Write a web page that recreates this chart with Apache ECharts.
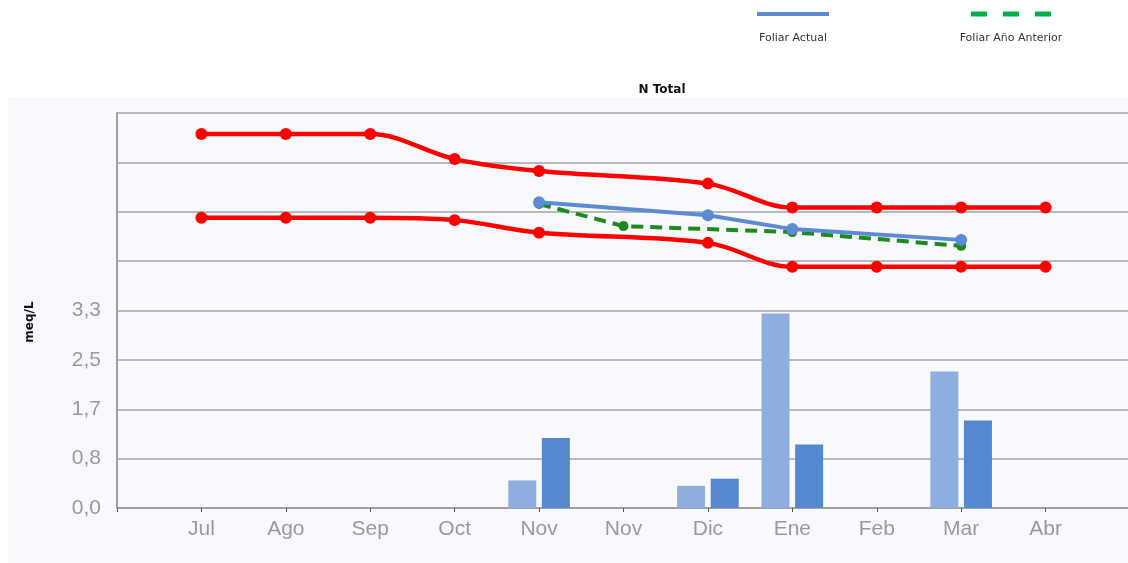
<!DOCTYPE html>
<html>
<head>
<meta charset="utf-8">
<title>N Total</title>
<script src="https://cdn.jsdelivr.net/npm/echarts@6/dist/echarts.min.js"></script>
<style>
  html, body { margin: 0; padding: 0; background: #fff; }
  #main { width: 1128px; height: 563px; }
</style>
</head>
<body>
<div id="main"></div>
<script>
// categorias (con un hueco vacio al inicio y al final del eje)
const months = ['Jul', 'Ago', 'Sep', 'Oct', 'Nov', 'Nov', 'Dic', 'Ene', 'Feb', 'Mar', 'Abr'];
const yTickLabels = ['0,0', '0,8', '1,7', '2,5', '3,3'];

// bandas (rojo)
const limiteSuperior = [6.25, 6.25, 6.25, 5.83, 5.63, null, 5.42, 5.02, 5.02, 5.02, 5.02];
const limiteInferior = [4.85, 4.85, 4.85, 4.81, 4.60, null, 4.43, 4.03, 4.03, 4.03, 4.03];

// foliar
const foliarActual = [null, null, null, null, 5.11, null, 4.89, 4.66, null, 4.48, null];
const foliarAnterior = [null, null, null, null, 5.08, 4.71, null, 4.61, null, 4.38, null];

// barras
const barrasClaras = [null, null, null, null, 0.46, null, 0.37, 3.25, null, 2.28, null];
const barrasOscuras = [null, null, null, null, 1.17, null, 0.49, 1.06, null, 1.46, null];

const yStep = 0.825;
const yMax = 6.6;

const pad = arr => [null].concat(arr, [null]);
const categories = [''].concat(months, ['']);

let myChart = echarts.init(document.getElementById('main'));

const labelFont = '"Liberation Sans", Arial, sans-serif';

myChart.setOption({
    animation: false,
    backgroundColor: '#ffffff',
    title: {
        text: 'N Total',
        left: 657,
        top: 79,
        textAlign: 'center',
        textStyle: { fontSize: 12, fontWeight: 'bold', color: '#111', fontFamily: 'DejaVu Sans, sans-serif' }
    },
    graphic: [
        {
            type: 'rect', z: -10, silent: true,
            shape: { x: 8, y: 97, width: 1125, height: 470 },
            style: { fill: '#f7f9fc' }
        },
        {
            type: 'line', silent: true,
            shape: { x1: 757, y1: 14, x2: 829, y2: 14 },
            style: { stroke: '#5b8bd0', lineWidth: 4 }
        },
        {
            type: 'text', silent: true, x: 793, y: 38,
            style: { text: 'Foliar Actual', fill: '#333', font: '11px DejaVu Sans', align: 'center', verticalAlign: 'middle' }
        },
        {
            type: 'line', silent: true,
            shape: { x1: 971, y1: 14, x2: 1051, y2: 14 },
            style: { stroke: '#00b050', lineWidth: 5, lineDash: [16, 16] }
        },
        {
            type: 'text', silent: true, x: 1011, y: 38,
            style: { text: 'Foliar Año Anterior', fill: '#333', font: '11px DejaVu Sans', align: 'center', verticalAlign: 'middle' }
        },
        {
            type: 'text', silent: true, x: 30, y: 322, rotation: Math.PI / 2,
            style: { text: 'meq/L', fill: '#111', font: 'bold 12px DejaVu Sans', align: 'center', verticalAlign: 'middle' }
        }
    ],
    grid: {
        left: 117,
        right: -2,
        top: 113,
        bottom: 55,
        outerBoundsMode: 'none'
    },
    xAxis: {
        type: 'category',
        data: categories,
        boundaryGap: false,
        axisLine: { lineStyle: { color: '#a0a0a0', width: 2 } },
        axisTick: { show: true, length: 4, lineStyle: { color: '#555' } },
        axisLabel: { interval: 0, fontSize: 21, color: '#9a9a9a', margin: 11, fontFamily: labelFont },
        splitLine: { show: false }
    },
    yAxis: {
        type: 'value',
        min: 0,
        max: yMax,
        interval: yStep,
        axisLine: { show: true, lineStyle: { color: '#a0a0a0', width: 2 } },
        axisTick: { show: false },
        axisLabel: {
            fontSize: 21,
            color: '#9a9a9a',
            margin: 16,
            fontFamily: labelFont,
            formatter: function (v) {
                let i = Math.round(v / yStep);
                return i < yTickLabels.length ? yTickLabels[i] : '';
            }
        },
        splitLine: { lineStyle: { color: '#a3a3a3', width: 1.5 } }
    },
    series: [
        {
            name: 'Barras 1',
            type: 'bar',
            data: pad(barrasClaras),
            barWidth: 28,
            barGap: '20%',
            itemStyle: { color: '#8daedf' },
            z: 1
        },
        {
            name: 'Barras 2',
            type: 'bar',
            data: pad(barrasOscuras),
            barWidth: 28,
            itemStyle: { color: '#5688d0' },
            z: 1
        },
        {
            name: 'Maximo',
            type: 'line',
            data: pad(limiteSuperior),
            connectNulls: true,
            smooth: 0.35,
            symbol: 'circle',
            symbolSize: 12,
            lineStyle: { color: '#ff0000', width: 4.5 },
            itemStyle: { color: '#ff0000' },
            z: 3
        },
        {
            name: 'Minimo',
            type: 'line',
            data: pad(limiteInferior),
            connectNulls: true,
            smooth: 0.35,
            symbol: 'circle',
            symbolSize: 12,
            lineStyle: { color: '#ff0000', width: 4.5 },
            itemStyle: { color: '#ff0000' },
            z: 3
        },
        {
            name: 'Foliar Año Anterior',
            type: 'line',
            data: pad(foliarAnterior),
            connectNulls: true,
            symbol: 'circle',
            symbolSize: 10,
            lineStyle: { color: '#1e8a1e', width: 4, type: [12, 7] },
            itemStyle: { color: '#1e8a1e' },
            z: 4
        },
        {
            name: 'Foliar Actual',
            type: 'line',
            data: pad(foliarActual),
            connectNulls: true,
            symbol: 'circle',
            symbolSize: 12,
            lineStyle: { color: '#5b8bd0', width: 4 },
            itemStyle: { color: '#5b8bd0' },
            z: 5
        }
    ]
});
</script>
</body>
</html>
